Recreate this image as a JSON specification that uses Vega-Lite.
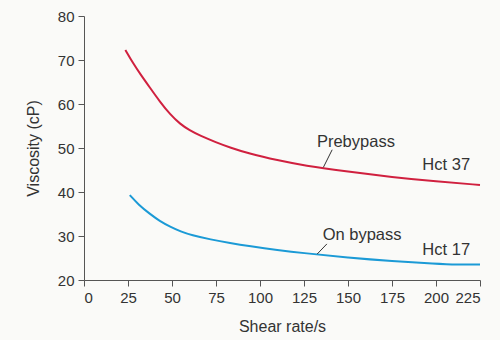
{
  "$schema": "https://vega.github.io/schema/vega-lite/v6.json",
  "width": 396,
  "height": 264,
  "autosize": "none",
  "padding": {"left": 84, "top": 16, "right": 20, "bottom": 60},
  "background": "#fafaf8",
  "config": {
    "view": {"stroke": null},
    "font": "Liberation Sans",
    "axis": {
      "grid": false,
      "domainColor": "#555555",
      "tickColor": "#555555",
      "tickSize": 6,
      "labelColor": "#333333",
      "titleColor": "#333333",
      "labelFontSize": 15,
      "titleFontSize": 16,
      "titleFontWeight": "normal",
      "labelFont": "Liberation Sans",
      "titleFont": "Liberation Sans"
    }
  },
  "datasets": {
    "curves": [
      {"series": "Prebypass", "rate": 23.5, "viscosity": 72.3},
      {"series": "Prebypass", "rate": 28, "viscosity": 69.2},
      {"series": "Prebypass", "rate": 32, "viscosity": 66.8},
      {"series": "Prebypass", "rate": 37.5, "viscosity": 63.7},
      {"series": "Prebypass", "rate": 43, "viscosity": 60.6},
      {"series": "Prebypass", "rate": 49, "viscosity": 57.6},
      {"series": "Prebypass", "rate": 54.5, "viscosity": 55.5},
      {"series": "Prebypass", "rate": 60, "viscosity": 54.0},
      {"series": "Prebypass", "rate": 66, "viscosity": 52.8},
      {"series": "Prebypass", "rate": 75, "viscosity": 51.3},
      {"series": "Prebypass", "rate": 83, "viscosity": 50.1},
      {"series": "Prebypass", "rate": 94, "viscosity": 48.7},
      {"series": "Prebypass", "rate": 110, "viscosity": 47.2},
      {"series": "Prebypass", "rate": 125, "viscosity": 46.0},
      {"series": "Prebypass", "rate": 150, "viscosity": 44.6},
      {"series": "Prebypass", "rate": 175, "viscosity": 43.4},
      {"series": "Prebypass", "rate": 200, "viscosity": 42.4},
      {"series": "Prebypass", "rate": 225, "viscosity": 41.6},
      {"series": "On bypass", "rate": 26, "viscosity": 39.3},
      {"series": "On bypass", "rate": 31, "viscosity": 37.1},
      {"series": "On bypass", "rate": 37.5, "viscosity": 35.0},
      {"series": "On bypass", "rate": 43, "viscosity": 33.4},
      {"series": "On bypass", "rate": 49, "viscosity": 32.1},
      {"series": "On bypass", "rate": 55, "viscosity": 31.0},
      {"series": "On bypass", "rate": 61, "viscosity": 30.2},
      {"series": "On bypass", "rate": 72, "viscosity": 29.2},
      {"series": "On bypass", "rate": 83, "viscosity": 28.4},
      {"series": "On bypass", "rate": 94, "viscosity": 27.7},
      {"series": "On bypass", "rate": 110, "viscosity": 26.8},
      {"series": "On bypass", "rate": 125, "viscosity": 26.1},
      {"series": "On bypass", "rate": 150, "viscosity": 25.1},
      {"series": "On bypass", "rate": 175, "viscosity": 24.3},
      {"series": "On bypass", "rate": 200, "viscosity": 23.7},
      {"series": "On bypass", "rate": 212, "viscosity": 23.5},
      {"series": "On bypass", "rate": 225, "viscosity": 23.5}
    ],
    "leaders": [
      {"x": 141, "y": 49.6, "x2": 136, "y2": 45.6},
      {"x": 138, "y": 28.2, "x2": 132.5, "y2": 25.9}
    ],
    "labels": [
      {"label": "Prebypass", "x": 154.5, "y": 51.4},
      {"label": "Hct 37", "x": 205.8, "y": 46.1},
      {"label": "On bypass", "x": 158, "y": 30.2},
      {"label": "Hct 17", "x": 205.8, "y": 26.8}
    ]
  },
  "layer": [
    {
      "data": {"name": "curves"},
      "mark": {"type": "line", "interpolate": "basis", "strokeWidth": 2},
      "encoding": {
        "x": {"field": "rate", "type": "quantitative", "title": "Shear rate/s",
              "scale": {"domain": [0, 225], "nice": false},
              "axis": {"values": [0, 25, 50, 75, 100, 125, 150, 175, 200, 225], "labelPadding": 4, "titlePadding": 13}},
        "y": {"field": "viscosity", "type": "quantitative", "title": "Viscosity (cP)",
              "scale": {"domain": [20, 80], "nice": false},
              "axis": {"values": [20, 30, 40, 50, 60, 70, 80], "labelPadding": 4, "titlePadding": 16}},
        "color": {"field": "series", "type": "nominal",
                  "scale": {"domain": ["Prebypass", "On bypass"], "range": ["#d0203f", "#1b9ad6"]},
                  "legend": null}
      }
    },
    {
      "data": {"name": "leaders"},
      "mark": {"type": "rule", "color": "#333333", "strokeWidth": 1},
      "encoding": {
        "x": {"field": "x", "type": "quantitative"},
        "y": {"field": "y", "type": "quantitative"},
        "x2": {"field": "x2"},
        "y2": {"field": "y2"}
      }
    },
    {
      "data": {"name": "labels"},
      "mark": {"type": "text", "fontSize": 16.5, "color": "#333333", "align": "center", "baseline": "middle", "font": "Liberation Sans"},
      "encoding": {
        "x": {"field": "x", "type": "quantitative"},
        "y": {"field": "y", "type": "quantitative"},
        "text": {"field": "label"}
      }
    }
  ]
}
